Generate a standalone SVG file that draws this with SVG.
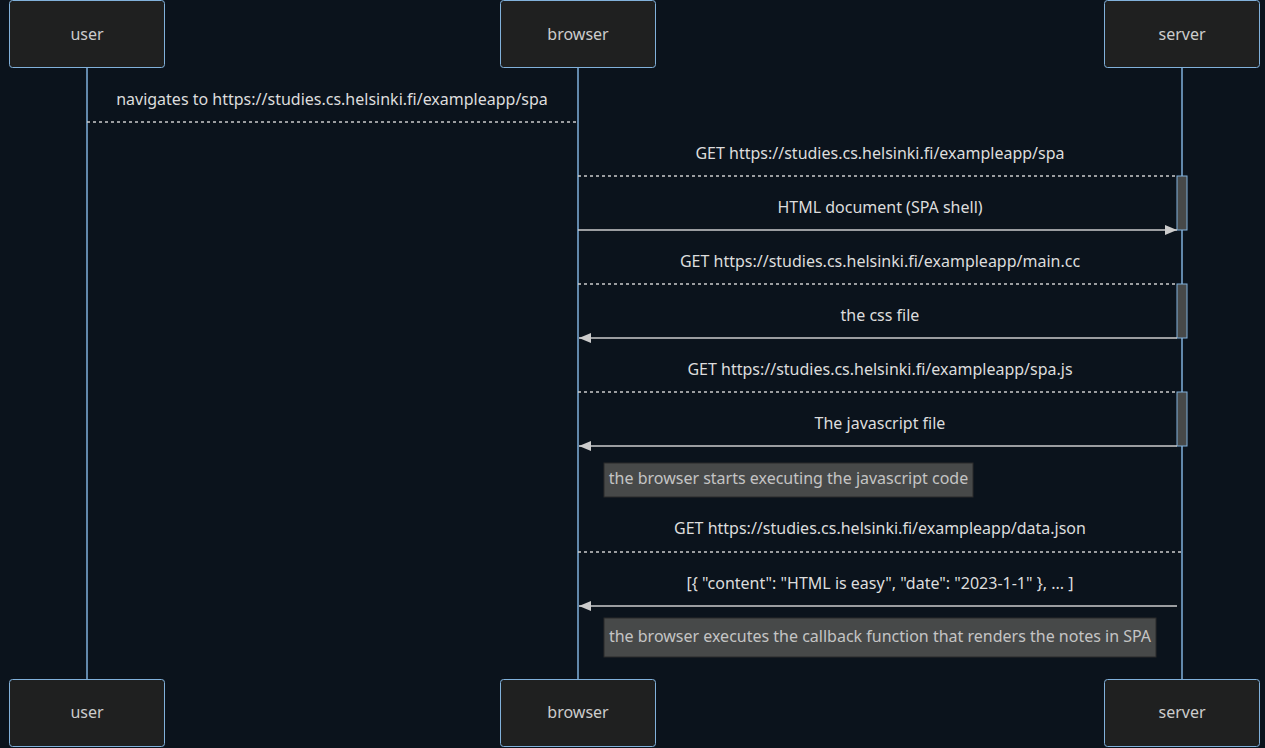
<svg xmlns="http://www.w3.org/2000/svg" width="1265" height="748" viewBox="0 0 1265 748">
<defs>
<style>
.bg{fill:#0b131c}
.actor rect{fill:#1f2020;stroke:#81b1db;stroke-width:1}
.actor text{fill:#cccccc;font-family:"Noto Sans","Liberation Sans",sans-serif;font-size:16px;text-anchor:middle;dominant-baseline:central}
.life{stroke:#81b1db;stroke-width:1.5}
.msg{stroke:#cccccc;stroke-width:1.5;fill:none}
.dash{stroke-dasharray:3,3}
.mt{fill:#dddddd;font-family:"Noto Sans","Liberation Sans",sans-serif;font-size:16px;text-anchor:middle;dominant-baseline:central}
.act{fill:#474949;stroke:#81b1db;stroke-width:1}
.note rect{fill:#474949;stroke:#2a2a2a;stroke-width:1}
.note text{fill:#c4c4c4;font-family:"Noto Sans","Liberation Sans",sans-serif;font-size:16px;text-anchor:middle;dominant-baseline:central}
</style>
<marker id="ah" viewBox="0 0 12 10" refX="12" refY="5" markerWidth="12" markerHeight="10" markerUnits="userSpaceOnUse" orient="auto">
<path d="M0,0 L12,5 L0,10 z" fill="#cccccc"/>
</marker>
</defs>
<rect class="bg" x="0" y="0" width="1265" height="748"/>
<g id="lifelines">
<line class="life" x1="87" y1="68" x2="87" y2="679"/>
<line class="life" x1="578" y1="68" x2="578" y2="679"/>
<line class="life" x1="1182" y1="68" x2="1182" y2="679"/>
</g>
<g id="actor-user" class="actor">
<rect x="9.5" y="0.5" width="155" height="67" rx="3"/>
<text x="87" y="34">user</text>
</g>
<g id="actor-browser" class="actor">
<rect x="500.5" y="0.5" width="155" height="67" rx="3"/>
<text x="578" y="34">browser</text>
</g>
<g id="actor-server" class="actor">
<rect x="1104.5" y="0.5" width="155" height="67" rx="3"/>
<text x="1182" y="34">server</text>
</g>
<g id="actor-user-bottom" class="actor">
<rect x="9.5" y="679.5" width="155" height="67" rx="3"/>
<text x="87" y="712">user</text>
</g>
<g id="actor-browser-bottom" class="actor">
<rect x="500.5" y="679.5" width="155" height="67" rx="3"/>
<text x="578" y="712">browser</text>
</g>
<g id="actor-server-bottom" class="actor">
<rect x="1104.5" y="679.5" width="155" height="67" rx="3"/>
<text x="1182" y="712">server</text>
</g>
<g id="activations">
<rect class="act" x="1177" y="176" width="10" height="54"/>
<rect class="act" x="1177" y="284" width="10" height="54"/>
<rect class="act" x="1177" y="392" width="10" height="54"/>
</g>
<g id="connectors">
<text class="mt" x="332" y="99">navigates to https://studies.cs.helsinki.fi/exampleapp/spa</text>
<line class="msg dash" x1="87" y1="122" x2="578" y2="122"/>
<text class="mt" x="880" y="153">GET https://studies.cs.helsinki.fi/exampleapp/spa</text>
<line class="msg dash" x1="578" y1="176" x2="1177" y2="176"/>
<text class="mt" x="880" y="207">HTML document (SPA shell)</text>
<line class="msg" x1="578" y1="230" x2="1177" y2="230" marker-end="url(#ah)"/>
<text class="mt" x="880" y="261">GET https://studies.cs.helsinki.fi/exampleapp/main.cc</text>
<line class="msg dash" x1="578" y1="284" x2="1177" y2="284"/>
<text class="mt" x="880" y="315">the css file</text>
<line class="msg" x1="1177" y1="338" x2="579" y2="338" marker-end="url(#ah)"/>
<text class="mt" x="880" y="369">GET https://studies.cs.helsinki.fi/exampleapp/spa.js</text>
<line class="msg dash" x1="578" y1="392" x2="1177" y2="392"/>
<text class="mt" x="880" y="423">The javascript file</text>
<line class="msg" x1="1177" y1="446" x2="579" y2="446" marker-end="url(#ah)"/>
<text class="mt" x="880" y="528">GET https://studies.cs.helsinki.fi/exampleapp/data.json</text>
<line class="msg dash" x1="578" y1="552" x2="1182" y2="552"/>
<text class="mt" x="880" y="583">[{ "content": "HTML is easy", "date": "2023-1-1" }, ... ]</text>
<line class="msg" x1="1177" y1="606" x2="579" y2="606" marker-end="url(#ah)"/>
</g>
<g id="note-1" class="note">
<rect x="604" y="463" width="369" height="34"/>
<text x="788.5" y="478">the browser starts executing the javascript code</text>
</g>
<g id="note-2" class="note">
<rect x="604" y="618" width="552" height="39"/>
<text x="880" y="636">the browser executes the callback function that renders the notes in SPA</text>
</g>
</svg>
